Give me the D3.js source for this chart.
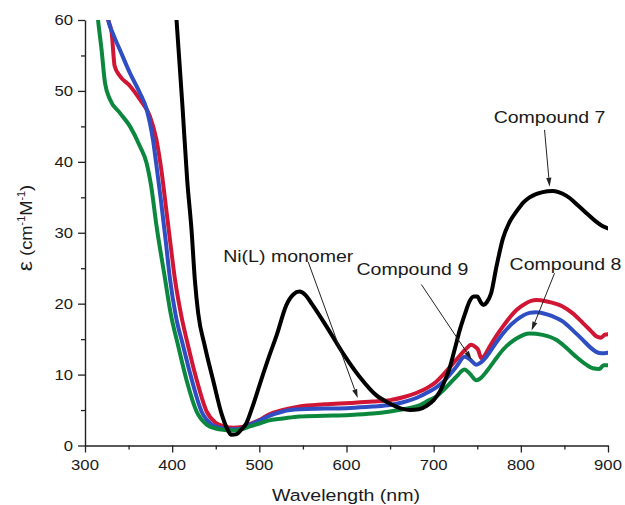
<!DOCTYPE html>
<html lang="en">
<meta charset="utf-8">
<head>
	<title>Absorption spectra</title>
	<script src="https://d3js.org/d3.v7.min.js"></script>
</head>

<style type="text/css">
	body {
		margin: 0;
		background: white;
	}

	.tickLabel {
		font-family: 'Liberation Sans', Arial, sans-serif;
		font-size: 14.5px;
		fill: #1a1a1a;
	}

	.axisTitle, .note {
		font-family: 'Liberation Sans', Arial, sans-serif;
		font-size: 17px;
		fill: #1a1a1a;
	}

	.spectrum {
		fill: none;
		stroke-width: 4;
		stroke-linejoin: round;
		stroke-linecap: round;
	}

	.pointer {
		stroke: #222;
		stroke-width: 1;
	}
</style>

<body>
	<script type="text/javascript">

		// Ni(L) monomer (red)
		var wlNiL  = [318, 326.7, 330.6, 334, 340, 351.6, 363, 374.5, 382, 388, 393, 398, 403, 410, 418.4, 428, 439.5, 450, 460, 470, 480, 489, 500, 510, 527, 546, 575, 604, 630, 650, 665, 680, 695, 703, 711, 726, 737, 743, 748, 751, 754.6, 758, 764, 771, 779.5, 795, 805, 817.6, 830, 848, 860, 871, 880, 886.5, 892, 896, 900];
		var epsNiL = [68, 60, 58.2, 53.5, 52.1, 50.7, 48.8, 46.4, 43.1, 38.5, 33.5, 28.5, 23.6, 18.6, 14, 9.3, 4.8, 3.2, 2.7, 2.5, 2.6, 3.0, 3.6, 4.3, 5.0, 5.5, 5.8, 6.0, 6.2, 6.4, 6.8, 7.4, 8.3, 9.0, 10.0, 12.1, 13.6, 14.2, 13.9, 13.5, 12.3, 12.6, 13.9, 15.3, 16.8, 19.1, 20.0, 20.5, 20.3, 19.6, 18.6, 17.3, 16.2, 15.4, 15.2, 15.6, 15.7];

		// Compound 7 (black)
		var wlC7  = [398, 405, 412, 417.2, 422.2, 426, 429.8, 437.5, 447, 456.6, 463, 468, 474, 479, 485, 492, 502, 511, 520, 531, 539, 546, 553, 560, 577, 596, 615, 634, 650, 663, 673, 683, 692, 700, 707, 713, 718, 724, 730, 736, 741, 746, 750, 754, 757, 761, 766, 772, 779.5, 787, 795, 803, 810, 824, 837, 848, 856, 866, 875, 886, 893, 900];
		var epsC7 = [73, 60, 47.5, 37.5, 30.4, 23.4, 18.7, 14, 9.2, 4.5, 2.4, 1.5, 1.6, 2.2, 3.1, 5.4, 9.2, 12.5, 15.6, 19.8, 21.3, 21.7, 21.2, 20.0, 16.8, 13.0, 9.7, 7.1, 5.9, 5.2, 5.0, 5.1, 5.6, 6.4, 7.6, 9.2, 10.8, 13.5, 16.3, 18.6, 20.3, 21.0, 21.0, 20.2, 19.8, 20.2, 21.5, 25.2, 29.2, 31.5, 33.0, 34.3, 35.0, 35.7, 35.9, 35.5, 34.9, 33.8, 32.8, 31.6, 31.0, 30.6];

		// Compound 8 (green)
		var wlC8  = [310, 315, 319, 323, 328.7, 340, 351.6, 363, 370.7, 376, 382, 391.7, 398, 407, 417, 428, 440, 450, 460, 470, 480, 489, 500, 510, 527, 546, 575, 604, 630, 650, 665, 680, 695, 703, 711, 726, 735.5, 741, 749, 754, 760.4, 770, 779.5, 795, 810, 825, 840.6, 852, 863.5, 875, 882.6, 890, 895, 900];
		var epsC8 = [67, 60, 55.8, 51.1, 48.8, 46.9, 45, 42.2, 39.8, 36.5, 31, 23.6, 18.8, 14, 9, 4.8, 2.9, 2.4, 2.2, 2.1, 2.3, 2.7, 3.1, 3.5, 3.8, 4.1, 4.2, 4.3, 4.5, 4.8, 5.1, 5.5, 6.4, 6.9, 7.8, 9.7, 10.7, 10.2, 9.2, 9.5, 10.4, 12.0, 13.5, 15.1, 15.8, 15.6, 14.9, 13.8, 12.5, 11.4, 10.9, 10.8, 11.3, 11.3];

		// Compound 9 (blue)
		var wlC9  = [318, 326.7, 333, 340, 351.6, 363, 370.7, 378, 383, 387, 392, 397.4, 404, 412.7, 422, 433.7, 445, 455, 465, 475, 489, 500, 510, 527, 546, 575, 604, 630, 650, 665, 680, 695, 703, 711, 726, 735.5, 741, 749, 754, 760.4, 770, 779.5, 795, 810, 817.6, 830, 848, 860, 871, 880, 886.5, 893, 900];
		var epsC9 = [69, 60, 57.8, 55.8, 52.5, 49.7, 47.4, 43.1, 38.5, 34.7, 29.5, 23.6, 18.4, 14, 9.5, 4.8, 3.0, 2.5, 2.3, 2.3, 2.9, 3.5, 4.1, 4.8, 5.1, 5.2, 5.3, 5.5, 5.7, 6.1, 6.7, 7.6, 8.2, 9.0, 11.1, 12.5, 12.2, 11.4, 11.7, 12.5, 14.2, 15.8, 17.7, 18.7, 18.8, 18.5, 17.5, 16.2, 14.9, 13.8, 13.2, 13.0, 13.1];

		var xTicks = [300, 400, 500, 600, 700, 800, 900];
		var yTicks = [0, 10, 20, 30, 40, 50, 60];

		// labels: text, text start [nm, eps], arrow from [nm, eps] to [nm, eps]
		var noteText = ["Compound 7", "Compound 8", "Compound 9", "Ni(L) monomer"];
		var noteAt   = [[768.8, 45.5], [787.1, 24.8], [611.4, 24.1], [458.5, 25.9]];
		var noteFrom = [[827.2, 44.5], [838.7, 24.3], [685.9, 22.7], [556, 25.9]];
		var noteTo   = [[833, 36.5], [812.3, 16.2], [743.6, 12.1], [612.9, 6.7]];

		var canvasWidth = 625,
			canvasHeight = 505,
			plotLeft = 85,
			plotRight = 608,
			plotTop = 20,
			plotBottom = 445.5,
			stretch = 1.15; // the source font is drawn a bit wide

		var svg = d3.select("body")
					.append("svg")
					.attr("width", canvasWidth)
					.attr("height", canvasHeight);

		var x = d3.scaleLinear().domain([300, 900]).range([plotLeft, plotRight]);
		var y = d3.scaleLinear().domain([0, 60]).range([plotBottom, plotTop]);

		svg.append("clipPath")
		   .attr("id", "plotClip")
		   .append("rect")
		   .attr("x", plotLeft)
		   .attr("y", plotTop)
		   .attr("width", plotRight - plotLeft)
		   .attr("height", plotBottom - plotTop);

		var line = d3.line()
					 .x(function(d) { return x(d[0]); })
					 .y(function(d) { return y(d[1]); })
					 .curve(d3.curveMonotoneX);

		function pairs(wl, eps) {
			return wl.map(function(w, i) { return [w, eps[i]]; });
		}

		var series = [
			{ data: pairs(wlNiL, epsNiL), colour: "rgb(208,22,52)" },
			{ data: pairs(wlC9, epsC9), colour: "rgb(48,78,195)" },
			{ data: pairs(wlC8, epsC8), colour: "rgb(12,136,62)" },
			{ data: pairs(wlC7, epsC7), colour: "#000" }
		];

		svg.append("g")
		   .attr("clip-path", "url(#plotClip)")
		   .selectAll("path")
		   .data(series)
		   .enter()
		   .append("path")
		   .attr("class", "spectrum")
		   .attr("d", function(d) { return line(d.data); })
		   .style("stroke", function(d) { return d.colour; });

		// axes
		var xAxis = d3.axisBottom(x).tickValues(d3.range(300, 901, 50)).tickFormat("").tickSizeOuter(0);
		var yAxis = d3.axisLeft(y).tickValues(d3.range(0, 61, 5)).tickFormat("").tickSizeOuter(0);

		var gx = svg.append("g").attr("transform", "translate(0," + plotBottom + ")").call(xAxis);
		var gy = svg.append("g").attr("transform", "translate(" + plotLeft + ",0)").call(yAxis);

		gx.selectAll(".tick line").attr("y2", function(d) { return d % 100 == 0 ? 7 : 4; });
		gy.selectAll(".tick line").attr("x2", function(d) { return d % 10 == 0 ? -7 : -4; });
		[gx, gy].forEach(function(g) {
			g.select(".domain").attr("stroke", "#222").attr("stroke-width", 1.4);
			g.selectAll(".tick line").attr("stroke", "#222").attr("stroke-width", 1.3);
		});

		xTicks.forEach(function(t) {
			svg.append("text")
			   .attr("class", "tickLabel")
			   .attr("text-anchor", "middle")
			   .attr("transform", "translate(" + x(t) + "," + (plotBottom + 24.5) + ") scale(" + stretch + ",1)")
			   .text(t);
		});

		yTicks.forEach(function(t) {
			svg.append("text")
			   .attr("class", "tickLabel")
			   .attr("text-anchor", "end")
			   .attr("transform", "translate(" + (plotLeft - 12) + "," + (y(t) + 5) + ") scale(" + stretch + ",1)")
			   .text(t);
		});

		svg.append("text")
		   .attr("class", "axisTitle")
		   .attr("text-anchor", "middle")
		   .attr("transform", "translate(" + 346 + "," + 501 + ") scale(" + stretch + ",1)")
		   .text("Wavelength (nm)");

		var yTitle = svg.append("text")
		   .attr("class", "axisTitle")
		   .attr("text-anchor", "middle")
		   .attr("font-size", "18px")
		   .attr("transform", "translate(32,228) rotate(-90) scale(1.08,1)");
		yTitle.append("tspan").attr("font-size", "21px").text("\u03b5");
		yTitle.append("tspan").text(" (cm");
		yTitle.append("tspan").attr("font-size", "10px").attr("dy", -7).text("-1");
		yTitle.append("tspan").attr("dy", 7).text("M");
		yTitle.append("tspan").attr("font-size", "10px").attr("dy", -7).text("-1");
		yTitle.append("tspan").attr("dy", 7).text(")");

		// annotations
		var arrowHead = d3.line();
		noteText.forEach(function(t, i) {
			svg.append("text")
			   .attr("class", "note")
			   .attr("transform", "translate(" + x(noteAt[i][0]) + "," + y(noteAt[i][1]) + ") scale(" + stretch + ",1)")
			   .text(t);

			var x1 = x(noteFrom[i][0]), y1 = y(noteFrom[i][1]),
				x2 = x(noteTo[i][0]), y2 = y(noteTo[i][1]);
			var ang = Math.atan2(y2 - y1, x2 - x1),
				len = 9, half = 2.6;
			var bx = x2 - len * Math.cos(ang), by = y2 - len * Math.sin(ang);

			svg.append("line")
			   .attr("class", "pointer")
			   .attr("x1", x1).attr("y1", y1)
			   .attr("x2", bx).attr("y2", by);

			svg.append("path")
			   .attr("fill", "#222")
			   .attr("d", arrowHead([
				   [x2, y2],
				   [bx - half * Math.sin(ang), by + half * Math.cos(ang)],
				   [bx + half * Math.sin(ang), by - half * Math.cos(ang)]
			   ]) + "Z");
		});

	</script>
</body>
</html>
